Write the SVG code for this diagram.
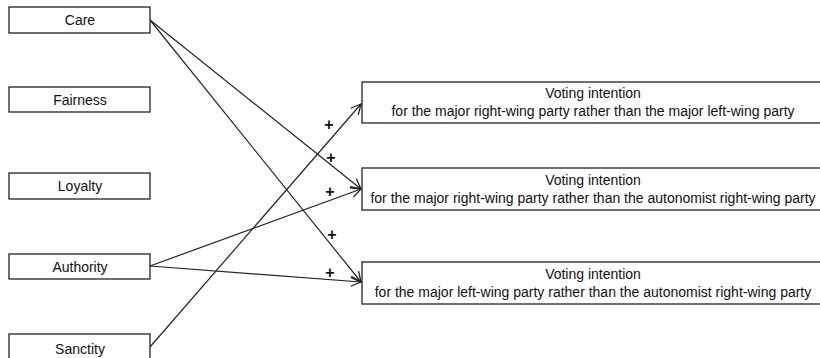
<svg xmlns="http://www.w3.org/2000/svg" width="820" height="358" viewBox="0 0 820 358">
<style>
.box{fill:#fff;stroke:#222;stroke-width:1.3}
.lbl{font-family:"Liberation Sans",Arial,sans-serif;font-size:14px;fill:#111;text-anchor:middle}
.edge{fill:none;stroke:#222;stroke-width:1.2;marker-end:url(#arr)}
.plus{font-family:"Liberation Sans",Arial,sans-serif;font-size:16px;font-weight:bold;fill:#111;text-anchor:middle}
</style>
<defs>
<marker id="arr" markerUnits="userSpaceOnUse" markerWidth="14" markerHeight="14" refX="11" refY="6" orient="auto" viewBox="0 0 14 12">
<path d="M1,1 L11,6 L1,11" fill="none" stroke="#222" stroke-width="1.3"/>
</marker>
</defs>
<rect width="820" height="358" fill="#fff"/>
<g id="connectors">
<line class="edge" x1="150" y1="20" x2="361" y2="189"/>
<line class="edge" x1="150" y1="20" x2="361" y2="282"/>
<line class="edge" x1="150" y1="266" x2="361" y2="189"/>
<line class="edge" x1="150" y1="266" x2="361" y2="282"/>
<line class="edge" x1="150" y1="347" x2="361" y2="104"/>
<text class="plus" x="329" y="130">+</text>
<text class="plus" x="331" y="163">+</text>
<text class="plus" x="330" y="197">+</text>
<text class="plus" x="332" y="240">+</text>
<text class="plus" x="330" y="278">+</text>
</g>
<g id="care"><rect class="box" x="9" y="7" width="141" height="26"/><text class="lbl" x="80" y="25">Care</text></g>
<g id="fairness"><rect class="box" x="9" y="87" width="141" height="25"/><text class="lbl" x="80" y="105">Fairness</text></g>
<g id="loyalty"><rect class="box" x="9" y="173" width="141" height="26"/><text class="lbl" x="80" y="191">Loyalty</text></g>
<g id="authority"><rect class="box" x="9" y="254" width="141" height="25"/><text class="lbl" x="80" y="272">Authority</text></g>
<g id="sanctity"><rect class="box" x="9" y="334" width="141" height="30"/><text class="lbl" x="80" y="354">Sanctity</text></g>
<g id="vote1"><rect class="box" x="362" y="82" width="464" height="41"/><text class="lbl" x="593" y="98">Voting intention</text><text class="lbl" x="593" y="116">for the major right-wing party rather than the major left-wing party</text></g>
<g id="vote2"><rect class="box" x="362" y="168" width="464" height="42"/><text class="lbl" x="593" y="185">Voting intention</text><text class="lbl" x="593" y="203">for the major right-wing party rather than the autonomist right-wing party</text></g>
<g id="vote3"><rect class="box" x="362" y="262" width="464" height="42"/><text class="lbl" x="593" y="279">Voting intention</text><text class="lbl" x="593" y="297">for the major left-wing party rather than the autonomist right-wing party</text></g>
</svg>
